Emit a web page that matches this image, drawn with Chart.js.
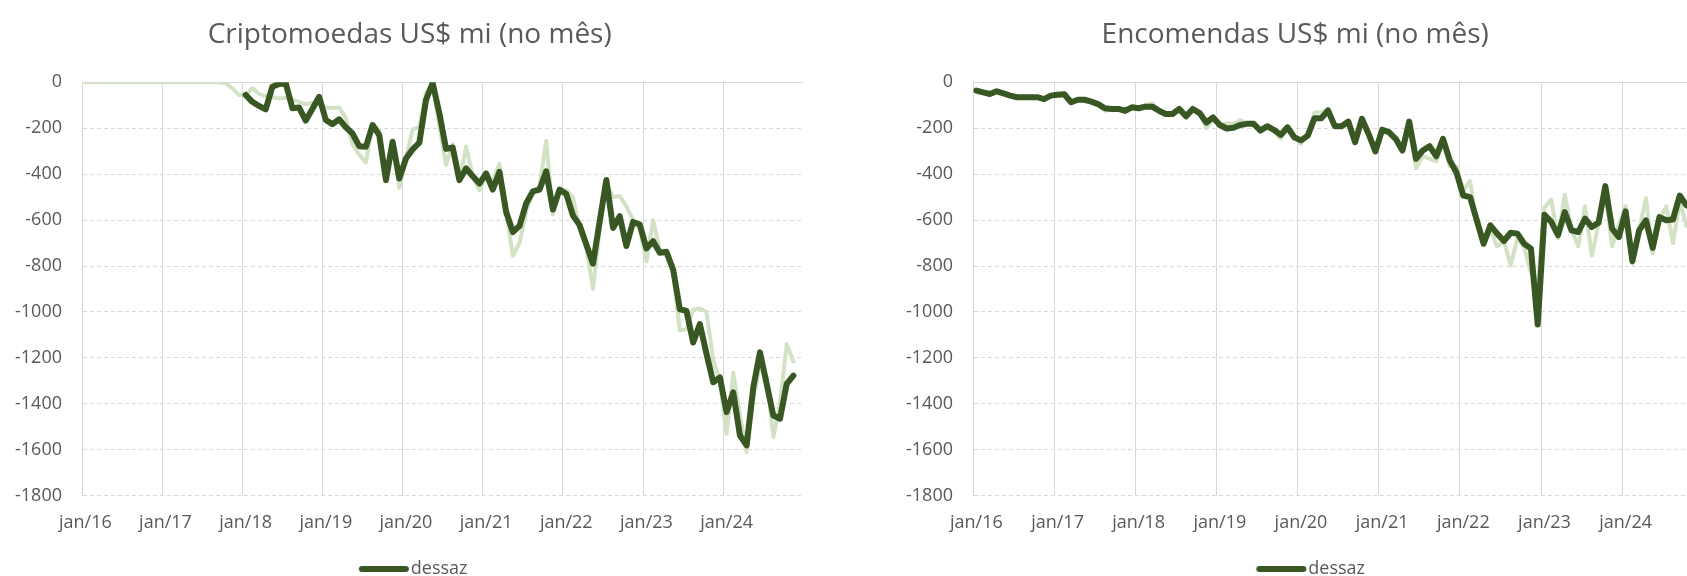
<!DOCTYPE html>
<html>
<head>
<meta charset="utf-8">
<script src="https://cdn.jsdelivr.net/npm/chart.js@4.4.1/dist/chart.umd.min.js"></script>
<style>
  html, body { margin: 0; padding: 0; background: #fff; overflow: hidden; width: 1687px; height: 576px; }
  canvas { position: absolute; top: 0; }
  #cripto { left: 0; }
  #encomendas { left: 891px; }
</style>
</head>
<body>
<canvas id="cripto" width="820" height="600"></canvas>
<canvas id="encomendas" width="829" height="600"></canvas>
<script>
// Monthly categories, jan/16 .. dez/24
const anos = [16, 17, 18, 19, 20, 21, 22, 23, 24];
const meses = ['jan', 'fev', 'mar', 'abr', 'mai', 'jun', 'jul', 'ago', 'set', 'out', 'nov', 'dez'];
const categorias = [];
anos.forEach(a => meses.forEach(m => categorias.push(m + '/' + a)));

// Criptomoedas, US$ milhões no mês (jan/16 .. nov/24)
const criptoDessaz = [
  null, null, null, null, null, null, null, null, null, null, null, null,
  null, null, null, null, null, null, null, null, null, null, null, null,
  -55, -85, -103, -118, -19, -7, -4, -113, -110, -167, -115, -63,
  -164, -182, -161, -196, -223, -278, -281, -186, -230, -426, -259, -419,
  -332, -292, -263, -77, -4, -135, -290, -284, -426, -375, -409, -441,
  -397, -467, -390, -565, -652, -625, -527, -475, -467, -388, -554, -467,
  -486, -580, -622, -706, -790, -606, -425, -634, -583, -713, -608, -619,
  -723, -692, -742, -738, -815, -988, -995, -1133, -1053, -1183, -1306, -1285,
  -1436, -1350, -1538, -1581, -1328, -1176, -1313, -1451, -1465, -1313, -1277
];
const criptoOriginal = [
  0, 0, 0, 0, 0, 0, 0, 0, 0, 0, 0, 0,
  0, 0, 0, 0, 0, 0, 0, 0, 0, -3, -26, -55,
  -55, -25, -50, -60, -65, -70, -68, -75, -85, -95, -90, -100,
  -110, -112, -110, -155, -270, -315, -350, -180, -210, -400, -260, -460,
  -330, -205, -195, -45, -5, -190, -360, -270, -430, -280, -410, -470,
  -400, -430, -355, -560, -755, -700, -560, -480, -450, -255, -575, -470,
  -470, -500, -640, -720, -900, -640, -440, -500, -495, -540, -600, -640,
  -780, -600, -730, -760, -830, -1080, -1075, -990, -985, -1000, -1210, -1300,
  -1530, -1265, -1450, -1610, -1380, -1230, -1280, -1545, -1400, -1140, -1215
];

// Encomendas, US$ milhões no mês (jan/16 .. nov/24)
const encomendasDessaz = [
  -36, -44, -51, -39, -48, -58, -65, -65, -65, -65, -73, -58,
  -54, -52, -87, -76, -76, -84, -95, -113, -116, -116, -124, -109,
  -113, -106, -106, -124, -138, -138, -116, -148, -116, -134, -175, -153,
  -186, -201, -198, -186, -181, -181, -210, -191, -207, -229, -196, -239,
  -253, -232, -156, -156, -123, -191, -191, -171, -261, -159, -225, -301,
  -207, -217, -246, -297, -171, -333, -297, -278, -322, -246, -340, -394,
  -493, -500, -601, -703, -623, -659, -691, -655, -659, -703, -724, -1055,
  -577, -608, -666, -565, -645, -652, -594, -630, -611, -452, -637, -674,
  -562, -779, -645, -601, -721, -587, -601, -597, -493, -536, -550
];
const encomendasOriginal = [
  -36, -42, -52, -40, -48, -58, -65, -66, -64, -66, -74, -56,
  -52, -50, -88, -78, -74, -86, -98, -124, -120, -112, -122, -106,
  -110, -100, -92, -120, -140, -136, -118, -156, -120, -130, -200, -158,
  -192, -178, -182, -165, -178, -185, -214, -200, -212, -245, -200, -236,
  -268, -228, -132, -130, -118, -196, -186, -175, -255, -170, -220, -290,
  -200, -215, -255, -300, -175, -375, -322, -332, -345, -260, -365, -365,
  -470, -430, -620, -690, -640, -715, -690, -797, -680, -720, -830, -890,
  -545, -510, -680, -490, -640, -715, -540, -755, -615, -480, -715, -620,
  -540, -790, -640, -505, -745, -600, -540, -700, -520, -625, -560
];

const yTicks = { min: -1800, max: 0, step: 200 };

const CINZA_TEXTO = '#595959';
const CINZA_GRADE = '#d9d9d9';
const VERDE_ESCURO = '#385723';
const VERDE_CLARO = '#d3e1c5';

Chart.defaults.font.family = '"Open Sans", Lato, sans-serif';

// Legend swatch: a short thick rounded line that runs up to the label text
const amostraLegenda = (() => {
  const c = document.createElement('canvas');
  c.width = 52;
  c.height = 8;
  const g = c.getContext('2d');
  g.strokeStyle = VERDE_ESCURO;
  g.lineWidth = 6;
  g.lineCap = 'round';
  g.beginPath();
  g.moveTo(4, 4);
  g.lineTo(48, 4);
  g.stroke();
  return c;
})();

// Solid horizontal axis line where the value axis crosses zero
const linhaZero = {
  id: 'linhaZero',
  beforeDatasetsDraw(chart) {
    const { ctx, chartArea, scales } = chart;
    const py = Math.round(scales.y.getPixelForValue(0)) + 0.5;
    ctx.save();
    ctx.strokeStyle = CINZA_GRADE;
    ctx.lineWidth = 1;
    ctx.beginPath();
    ctx.moveTo(chartArea.left, py);
    ctx.lineTo(chartArea.right, py);
    ctx.stroke();
    ctx.restore();
  }
};

// Horizontal nudge of the title and legend boxes after layout
const deslocamento = {
  id: 'deslocamento',
  afterLayout(chart, args, opts) {
    const t = chart.titleBlock;
    const l = chart.legend;
    if (t && opts.titulo) { t.left += opts.titulo; t.right += opts.titulo; }
    if (l && opts.legenda) { l.left += opts.legenda; l.right += opts.legenda; }
  }
};

function grafico(id, titulo, dessaz, original, dxTitulo, dxLegenda) {
  return new Chart(document.getElementById(id), {
    type: 'line',
    data: {
      labels: categorias,
      datasets: [
        {
          label: 'dessaz',
          data: dessaz,
          borderColor: VERDE_ESCURO,
          backgroundColor: VERDE_ESCURO,
          borderWidth: 6,
          borderCapStyle: 'round',
          borderJoinStyle: 'round',
          pointRadius: 0,
          tension: 0,
          spanGaps: false
        },
        {
          label: 'original',
          data: original,
          borderColor: VERDE_CLARO,
          backgroundColor: VERDE_CLARO,
          borderWidth: 4,
          borderCapStyle: 'round',
          borderJoinStyle: 'round',
          pointRadius: 0,
          tension: 0
        }
      ]
    },
    options: {
      responsive: false,
      maintainAspectRatio: false,
      animation: false,
      devicePixelRatio: 1,
      events: [],
      layout: { padding: { left: 0, right: 16.6, top: 0, bottom: 12 } },
      plugins: {
        deslocamento: { titulo: dxTitulo, legenda: dxLegenda },
        title: {
          display: true,
          text: titulo,
          color: CINZA_TEXTO,
          font: { size: 28, weight: 'normal' },
          padding: { top: 18, bottom: 30.7 }
        },
        legend: {
          position: 'bottom',
          labels: {
            filter: item => item.datasetIndex === 0,
            usePointStyle: true,
            pointStyle: amostraLegenda,
            pointStyleWidth: 36,
            color: CINZA_TEXTO,
            font: { size: 18 },
            padding: 10
          }
        },
        tooltip: { enabled: false }
      },
      scales: {
        x: {
          type: 'category',
          offset: true,
          grid: {
            offset: true,
            drawTicks: false,
            lineWidth: 1,
            color: c => (c.index % 12 === 0 ? CINZA_GRADE : 'rgba(0,0,0,0)')
          },
          border: { display: false },
          ticks: {
            autoSkip: false,
            maxRotation: 0,
            minRotation: 0,
            padding: 16,
            color: CINZA_TEXTO,
            font: { size: 18 },
            callback: (v, i) => (i % 12 === 0 ? categorias[i] : '')
          },
          afterFit: s => { s.height = 54.3; }
        },
        y: {
          min: yTicks.min,
          max: yTicks.max,
          ticks: {
            stepSize: yTicks.step,
            padding: 20,
            color: CINZA_TEXTO,
            font: { size: 18 },
            callback: v => String(v)
          },
          grid: { color: CINZA_GRADE, drawTicks: false, lineWidth: 1 },
          border: { display: true, color: CINZA_GRADE, dash: [4, 3] },
          afterFit: s => { s.width = 82; }
        }
      }
    },
    plugins: [linhaZero, deslocamento]
  });
}

grafico('cripto', 'Criptomoedas US$ mi (no mês)', criptoDessaz, criptoOriginal, 8, 15);
grafico('encomendas', 'Encomendas US$ mi (no mês)', encomendasDessaz, encomendasOriginal, -2, 17);
</script>
</body>
</html>
